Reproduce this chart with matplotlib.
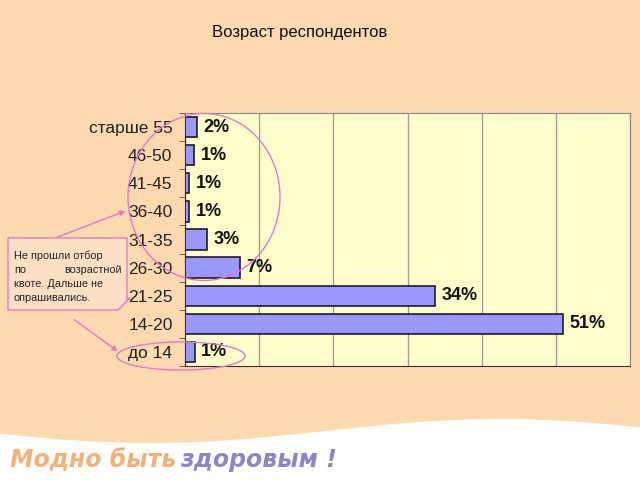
import numpy as np
import matplotlib
matplotlib.use("Agg")
import matplotlib.pyplot as plt
from matplotlib.patches import Ellipse, Polygon

plt.rcParams['font.family'] = ['Liberation Sans', 'DejaVu Sans']

# данные (снизу вверх)
groups = ["до 14", "14-20", "21-25", "26-30", "31-35", "36-40", "41-45", "46-50", "старше 55"]
shares = [1.3, 51.0, 33.7, 7.4, 3.0, 0.5, 0.5, 1.2, 1.6]
share_labels = ["1%", "51%", "34%", "7%", "3%", "1%", "1%", "1%", "2%"]
title = "Возраст респондентов"
note_lines = ["Не прошли отбор", "по возрастной", "квоте. Дальше не", "опрашивались."]

bg = "#FCD9AE"
pink = "#E27AC8"

fig = plt.figure(figsize=(6.4, 4.8), dpi=100, facecolor=bg)

# фон с волной внизу
back = fig.add_axes([0, 0, 1, 1], zorder=0)
back.set_xlim(0, 640)
back.set_ylim(480, 0)
back.axis("off")
xs = np.linspace(0, 640, 200)
wave = 431 + 12 * np.cos(2 * np.pi * (xs - 150) / 700)
back.add_patch(Polygon(np.column_stack([np.r_[xs, 640, 0], np.r_[wave, 480, 480]]),
                       closed=True, facecolor="white", edgecolor="none"))
back.text(10, 467, "Модно быть", color="#F2B277", fontsize=17, style="italic",
          fontweight="bold", family="DejaVu Sans")
back.text(180, 467, "здоровым !", color="#8C86C4", fontsize=17, style="italic",
          fontweight="bold", family="DejaVu Sans")

# диаграмма
ax = fig.add_axes([185 / 640, 1 - 366 / 480, 445 / 640, 253 / 480], zorder=1)
ax.set_facecolor("#FFFFCC")
y = np.arange(len(groups))
ax.barh(y, shares, height=0.72, color="#9999FF", edgecolor="#1a1a2a", linewidth=1.2, zorder=3)
for yi, v, lab in zip(y, shares, share_labels):
    ax.text(v + 0.9, yi, lab, va="center", ha="left", fontsize=13, fontweight="bold",
            color="#111111", zorder=4)
ax.set_xlim(0, 60)
ax.set_ylim(-0.5, len(groups) - 0.5)
ax.set_xticks(np.arange(0, 61, 10))
ax.xaxis.grid(True, color="#A0A090", linewidth=1)
ax.tick_params(axis="x", length=0, labelbottom=False)
ax.set_yticks(y)
ax.set_yticklabels(groups, fontsize=12.5, color="#222222")
ax.tick_params(axis="y", length=0, pad=9)
ax.set_yticks(np.arange(-0.5, len(groups), 1), minor=True)
ax.tick_params(axis="y", which="minor", length=4, color="#555555")
for s in ax.spines.values():
    s.set_color("#888888")
ax.spines["left"].set_color("#333333")
ax.spines["bottom"].set_color("#333333")

fig.text(300 / 640, 1 - 32 / 480, title, ha="center", va="center", fontsize=12, color="#111111")

# пометки поверх
top = fig.add_axes([0, 0, 1, 1], zorder=2)
top.set_xlim(0, 640)
top.set_ylim(480, 0)
top.axis("off")
top.patch.set_alpha(0)
top.add_patch(Ellipse((204, 197), 152, 167, fill=False, edgecolor=pink, linewidth=1))
top.add_patch(Ellipse((181, 356), 128, 28, fill=False, edgecolor=pink, linewidth=1))
box = [(8, 238), (127, 238), (127, 300), (130, 298), (118, 310), (8, 310)]
top.add_patch(Polygon(box, closed=True, facecolor="#FDE0C4", edgecolor=pink, linewidth=1))
fs = 7.8
top.text(14, 256, note_lines[0], fontsize=fs, va="center", color="#222222")
top.text(14, 270, "по", fontsize=fs, va="center", color="#222222")
top.text(122, 270, "возрастной", fontsize=fs, va="center", ha="right", color="#222222")
top.text(14, 284, note_lines[2], fontsize=fs, va="center", color="#222222")
top.text(14, 298, note_lines[3], fontsize=fs, va="center", color="#222222")
top.annotate("", xy=(128, 210), xytext=(55, 238),
             arrowprops=dict(arrowstyle="-|>", color=pink, lw=1, mutation_scale=8))
top.annotate("", xy=(120, 353), xytext=(72, 318),
             arrowprops=dict(arrowstyle="-|>", color=pink, lw=1, mutation_scale=8))

fig.savefig("out.png", dpi=100, facecolor=bg)
